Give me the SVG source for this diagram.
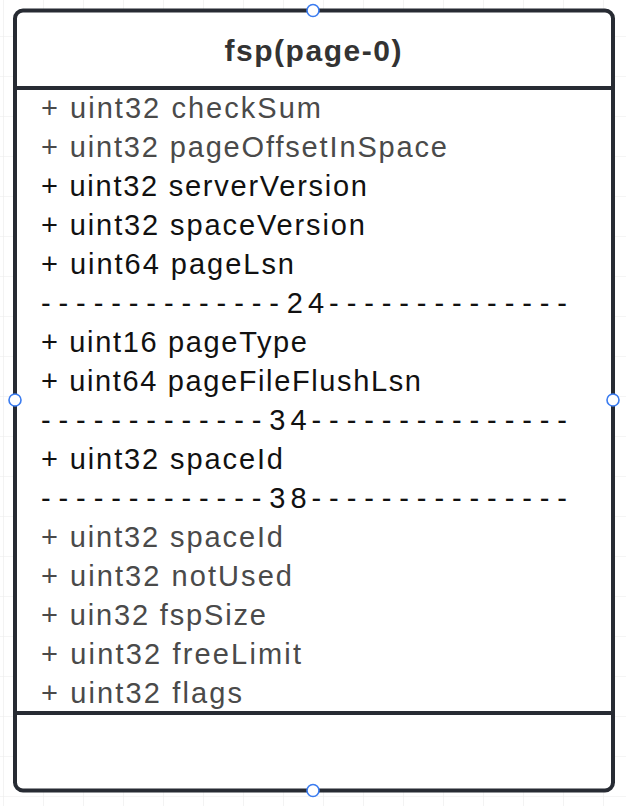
<svg xmlns="http://www.w3.org/2000/svg" width="626" height="806" viewBox="0 0 626 806">
  <defs>
    <pattern id="grid" patternUnits="userSpaceOnUse" x="3" y="-4" width="40" height="40">
      <path d="M 0 0 L 40 0 M 0 0 L 0 40" fill="none" stroke="#ebebeb" stroke-width="1.2"/>
    </pattern>
    <style>
      .box { fill: #ffffff; stroke: #272b33; stroke-width: 4; }
      .div { stroke: #272b33; stroke-width: 4; }
      .title { font-family: "Liberation Sans", Arial, sans-serif; font-size: 30px; font-weight: bold; fill: #333333; }
      .row { font-family: "Liberation Sans", Arial, sans-serif; font-size: 29px; }
      .g { fill: #4a4a4a; }
      .k { fill: #111111; }
      .dash { letter-spacing: 7.9px; }
      .num { letter-spacing: 5px; }
      .handle { fill: #ffffff; stroke: #3b7cf0; stroke-width: 1.6; }
    </style>
  </defs>
  <rect x="0" y="0" width="626" height="806" fill="#ffffff"/>
  <rect x="0" y="0" width="626" height="806" fill="url(#grid)"/>

  <g id="fsp-page-0">
    <rect class="box" x="15" y="10.5" width="598" height="780" rx="8" ry="8"/>
    <line class="div" x1="15" y1="88" x2="613" y2="88"/>
    <line class="div" x1="15" y1="713" x2="613" y2="713"/>
    <text class="title" x="313" y="61" text-anchor="middle" textLength="177" lengthAdjust="spacing">fsp(page-0)</text>
    <g class="row">
      <text class="g" x="41" y="118" textLength="280" lengthAdjust="spacing">+ uint32 checkSum</text>
      <text class="g" x="41" y="157" textLength="406" lengthAdjust="spacing">+ uint32 pageOffsetInSpace</text>
      <text class="k" x="41" y="196" textLength="326" lengthAdjust="spacing">+ uint32 serverVersion</text>
      <text class="k" x="41" y="235" textLength="324" lengthAdjust="spacing">+ uint32 spaceVersion</text>
      <text class="k" x="41" y="274" textLength="253" lengthAdjust="spacing">+ uint64 pageLsn</text>
      <text class="k" x="41" y="313"><tspan class="dash">--------------</tspan><tspan class="num">24</tspan><tspan class="dash">--------------</tspan></text>
      <text class="k" x="41" y="352" textLength="266" lengthAdjust="spacing">+ uint16 pageType</text>
      <text class="k" x="41" y="391" textLength="380" lengthAdjust="spacing">+ uint64 pageFileFlushLsn</text>
      <text class="k" x="41" y="430"><tspan class="dash">-------------</tspan><tspan class="num">34</tspan><tspan class="dash">---------------</tspan></text>
      <text class="k" x="41" y="469" textLength="242" lengthAdjust="spacing">+ uint32 spaceId</text>
      <text class="k" x="41" y="508"><tspan class="dash">-------------</tspan><tspan class="num">38</tspan><tspan class="dash">---------------</tspan></text>
      <text class="g" x="41" y="547" textLength="242" lengthAdjust="spacing">+ uint32 spaceId</text>
      <text class="g" x="41" y="586" textLength="251" lengthAdjust="spacing">+ uint32 notUsed</text>
      <text class="g" x="41" y="625" textLength="225" lengthAdjust="spacing">+ uin32 fspSize</text>
      <text class="g" x="41" y="664" textLength="260" lengthAdjust="spacing">+ uint32 freeLimit</text>
      <text class="g" x="41" y="703" textLength="201" lengthAdjust="spacing">+ uint32 flags</text>
    </g>
  </g>

  <g id="connectors"></g>

  <g id="handles">
    <circle class="handle" cx="313" cy="10.5" r="6"/>
    <circle class="handle" cx="15" cy="400" r="6"/>
    <circle class="handle" cx="613" cy="400" r="6"/>
    <circle class="handle" cx="313" cy="790.5" r="6"/>
  </g>
</svg>
